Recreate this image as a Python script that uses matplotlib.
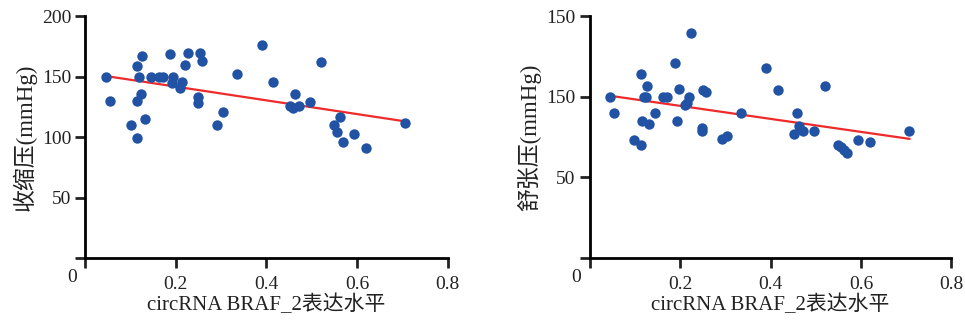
import numpy as np
import matplotlib
matplotlib.use("Agg")
from matplotlib import pyplot as plt

# circRNA BRAF_2 expression vs systolic pressure (left panel)
sbp_x = [0.046, 0.054, 0.101, 0.114, 0.115, 0.114, 0.120, 0.124, 0.126, 0.132,
         0.145, 0.164, 0.171, 0.188, 0.195, 0.192, 0.213, 0.210, 0.220, 0.226,
         0.253, 0.257, 0.250, 0.249, 0.292, 0.305, 0.334, 0.390, 0.415, 0.452,
         0.458, 0.462, 0.472, 0.497, 0.520, 0.550, 0.555, 0.562, 0.568, 0.593,
         0.619, 0.705]
sbp_y = [150, 130, 110, 99, 130, 159, 150, 136, 167, 115,
         150, 150, 150, 169, 150, 145, 146, 141, 160, 170,
         170, 163, 133, 128, 110, 121, 152, 176, 146, 126,
         124, 136, 126, 129, 162, 110, 104, 117, 96, 103,
         91, 112]

# circRNA BRAF_2 expression vs diastolic pressure (right panel)
dbp_x = [0.046, 0.053, 0.099, 0.113, 0.113, 0.115, 0.120, 0.124, 0.126, 0.131,
         0.145, 0.163, 0.171, 0.188, 0.193, 0.197, 0.211, 0.215, 0.220, 0.224,
         0.250, 0.258, 0.249, 0.249, 0.292, 0.304, 0.334, 0.389, 0.416, 0.452,
         0.458, 0.463, 0.471, 0.497, 0.521, 0.549, 0.556, 0.563, 0.569, 0.593,
         0.619, 0.707]
dbp_y = [100, 90, 73, 114, 70, 85, 100, 100, 107, 83,
         90, 100, 100, 121, 85, 105, 95, 96, 100, 140,
         104, 103, 81, 79, 74, 76, 90, 118, 104, 77,
         90, 82, 79, 79, 107, 70, 69, 67, 65, 73,
         72, 79]

x_ticks = [0, 0.2, 0.4, 0.6, 0.8]
x_tick_labels = ["", "0.2", "0.4", "0.6", "0.8"]
sbp_ticks = [0, 50, 100, 150, 200]
sbp_tick_labels = ["", "50", "100", "150", "200"]
dbp_ticks = [0, 50, 100, 150]
dbp_tick_labels = ["", "50", "150", "150"]

FONT = ["Liberation Serif", "Noto Sans CJK SC"]
TXT = "#222222"
DOT = "#2152a3"
LINE = "#ee2a2a"


def draw_panel(ax, x, y, yticks, ylabels, ylabel):
    ax.scatter(x, y, s=56, color=DOT, zorder=3, linewidths=0)
    k, b = np.polyfit(x, y, 1)
    xs = np.array([min(x), max(x)])
    ax.plot(xs, k * xs + b, color=LINE, linewidth=1.6, zorder=2)

    ax.set_xlim(0, 0.8)
    ax.set_ylim(0, yticks[-1])
    ax.set_xticks(x_ticks)
    ax.set_xticklabels(x_tick_labels)
    ax.set_yticks(yticks)
    ax.set_yticklabels(ylabels)
    for s in ["top", "right"]:
        ax.spines[s].set_visible(False)
    for s in ["left", "bottom"]:
        ax.spines[s].set_linewidth(2.0)
    ax.tick_params(axis="both", direction="out", length=7, width=2.0,
                   labelsize=14, colors=TXT, pad=3)
    ax.tick_params(axis="x", pad=6)
    for lab in ax.get_xticklabels() + ax.get_yticklabels():
        lab.set_family(FONT)
        lab.set_color(TXT)
    ax.set_xlabel("circRNA BRAF_2表达水平", family=FONT, fontsize=15,
                  color=TXT, labelpad=1)
    ax.set_ylabel(ylabel, family=FONT, fontsize=16.5, color=TXT, labelpad=4)
    ax.annotate("0", xy=(0, 0), xycoords="data", xytext=(-9.5, -14),
                textcoords="offset points", ha="center", va="center",
                family=FONT, fontsize=14, color=TXT, annotation_clip=False)


def main():
    fig = plt.figure(figsize=(9.65, 3.22), dpi=100)
    ax1 = fig.add_axes([0.0881, 0.199, 0.376, 0.75])
    ax2 = fig.add_axes([0.611, 0.199, 0.375, 0.75])
    draw_panel(ax1, sbp_x, sbp_y, sbp_ticks, sbp_tick_labels, "收缩压(mmHg)")
    draw_panel(ax2, dbp_x, dbp_y, dbp_ticks, dbp_tick_labels, "舒张压(mmHg)")
    fig.savefig("out.png", dpi=100)
    plt.close(fig)


if __name__ == "__main__":
    main()
